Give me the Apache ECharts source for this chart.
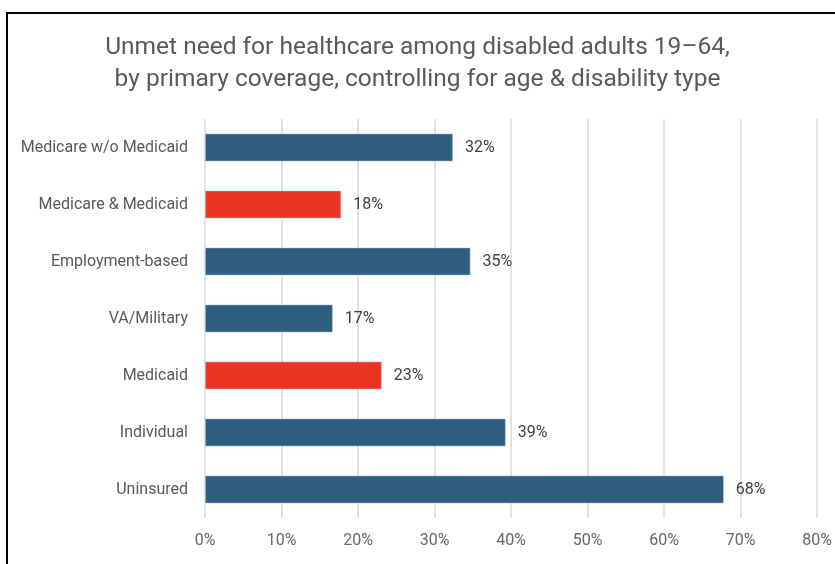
<!DOCTYPE html>
<html>
<head>
<meta charset="utf-8">
<script src="https://cdn.jsdelivr.net/npm/echarts@6/dist/echarts.min.js"></script>
<style>
  html, body { margin: 0; padding: 0; background: #fff; overflow: hidden; }
  #chart { position: absolute; left: 0; top: 0; width: 835px; height: 564px; }
  #frame {
    position: absolute; left: 6px; top: 12px; width: 900px; height: 600px;
    border-top: 2px solid #000; border-left: 2px solid #000; pointer-events: none;
  }
</style>
</head>
<body>
<div id="chart"></div>
<div id="frame"></div>
<script>
// categories, top to bottom as shown
const coverage = ['Medicare w/o Medicaid', 'Medicare & Medicaid', 'Employment-based', 'VA/Military', 'Medicaid', 'Individual', 'Uninsured']
// unmet need share (%)
const unmetNeed = [32.4, 17.8, 34.7, 16.7, 23.1, 39.3, 67.8]
// highlighted groups (drawn in red)
const highlighted = ['Medicare & Medicaid', 'Medicaid']
const xTicks = [0, 10, 20, 30, 40, 50, 60, 70, 80]

const blue = '#2e5e7e'
const red = '#e93424'
const textGrey = '#595959'
const font = 'Roboto, "Liberation Sans", sans-serif'

const chart = echarts.init(document.getElementById('chart'))

chart.setOption({
  animation: false,
  title: {
    text: 'Unmet need for healthcare among disabled adults 19–64,\nby primary coverage, controlling for age & disability type',
    left: 'center',
    top: 27,
    textStyle: { color: textGrey, fontSize: 24.5, fontWeight: 'normal', fontFamily: font, lineHeight: 32 }
  },
  grid: { left: 205, right: 14, top: 119, bottom: 46 },
  xAxis: {
    type: 'value',
    min: xTicks[0],
    max: xTicks[xTicks.length - 1],
    interval: 10,
    axisLine: { show: false },
    axisTick: { show: false },
    axisLabel: { color: '#666', fontSize: 16, fontFamily: font, margin: 15, formatter: '{value}%' },
    splitLine: { lineStyle: { color: '#d9d9d9', width: 1.5 } }
  },
  yAxis: {
    type: 'category',
    inverse: true,
    data: coverage,
    axisLine: { show: false },
    axisTick: { show: false },
    axisLabel: { color: textGrey, fontSize: 16, fontFamily: font, margin: 17 }
  },
  series: [{
    type: 'bar',
    barWidth: 28,
    data: unmetNeed.map((v, i) => ({
      value: v,
      itemStyle: { color: highlighted.includes(coverage[i]) ? red : blue }
    })),
    itemStyle: { borderColor: 'rgba(180,200,215,0.7)', borderWidth: 0.8 },
    label: {
      show: true,
      position: 'right',
      distance: 12,
      color: '#404040',
      fontSize: 16,
      fontFamily: font,
      formatter: p => Math.round(p.value) + '%'
    }
  }]
})
</script>
</body>
</html>
